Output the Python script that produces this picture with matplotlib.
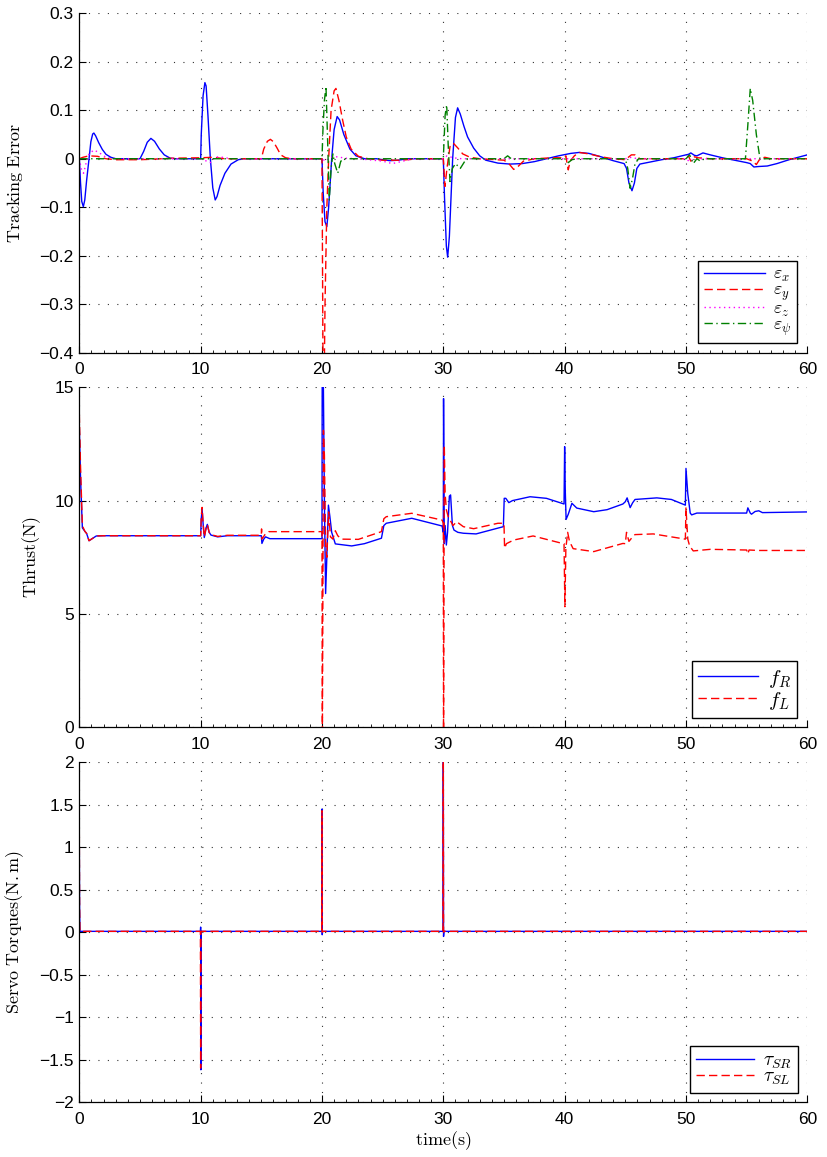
import matplotlib
matplotlib.use("Agg")
import matplotlib.pyplot as plt
from matplotlib.ticker import MultipleLocator

plt.rcParams['mathtext.fontset'] = 'cm'
plt.rcParams['font.family'] = ['Liberation Sans', 'DejaVu Sans']

# --- Tracking error (top) ---
t_ex = [0, 0.1, 0.2, 0.33, 0.45, 0.6, 0.8, 0.95, 1.1, 1.2, 1.35, 1.6, 1.9, 2.2, 2.6, 3.0,
        5.0, 5.3, 5.6, 5.9, 6.2, 6.6, 7.0, 7.5, 8.0,
        10.0, 10.05, 10.2, 10.35, 10.45, 10.6, 10.8, 11.0, 11.2, 11.35, 11.6, 12.0, 12.5, 13.1, 13.5,
        20.0, 20.1, 20.25, 20.4, 20.55, 20.8, 21.0, 21.25, 21.45, 21.8, 22.3, 22.8, 23.5,
        24.5, 25.0, 25.6, 26.3, 27.0,
        30.0, 30.1, 30.25, 30.36, 30.5, 30.77, 31.0, 31.18, 31.4, 31.7, 32.0, 32.5, 33.0,
        33.5, 34.5, 35.5, 36.5, 37.5, 38.5, 39.5, 40.5, 41.2, 42.0, 43.0, 44.0, 44.9,
        45.1, 45.3, 45.55, 45.75, 45.95, 46.2, 47.0, 48.0, 49.0, 50.0, 50.2, 50.4, 50.7, 50.9,
        51.4, 52.0, 53.0, 54.0, 55.0, 55.3, 55.6, 56.0, 56.7, 57.5, 58.5, 60.0]
e_x = [0, -0.05, -0.088, -0.099, -0.085, -0.045, 0.0, 0.035, 0.051, 0.053, 0.047, 0.033, 0.019, 0.009, 0.003, 0.0,
       0.0, 0.015, 0.034, 0.042, 0.036, 0.02, 0.008, 0.001, 0.0,
       0.0, 0.05, 0.13, 0.157, 0.15, 0.09, 0.0, -0.06, -0.085, -0.078, -0.055, -0.03, -0.011, -0.002, 0.0,
       0.0, -0.07, -0.13, -0.14, -0.1, 0.0, 0.06, 0.087, 0.08, 0.05, 0.02, 0.006, 0.0,
       0.0, -0.002, -0.004, -0.003, 0.0,
       0.0, -0.08, -0.18, -0.203, -0.16, 0.0, 0.085, 0.105, 0.092, 0.067, 0.045, 0.022, 0.006,
       -0.003, -0.009, -0.011, -0.01, -0.006, 0.0, 0.006, 0.011, 0.013, 0.011, 0.004, -0.004, -0.01,
       -0.02, -0.05, -0.066, -0.05, -0.02, -0.011, -0.007, -0.002, 0.002, 0.008, 0.009, 0.012, 0.007, 0.006,
       0.012, 0.008, 0.002, -0.003, -0.008, -0.01, -0.017, -0.016, -0.015, -0.01, -0.002, 0.008]

t_ey = [0, 0.3, 0.8, 1.5, 2.2, 3.0, 5.0, 6.0, 7.5, 10.0, 11.0, 12.0,
        15.0, 15.2, 15.5, 15.75, 16.0, 16.3, 16.6, 17.0, 17.5,
        20.0, 20.05, 20.12, 20.25, 20.4, 20.55, 20.75, 21.0, 21.15, 21.4, 21.7, 22.0, 22.4, 23.0, 23.8,
        25.0, 26.5, 28.0,
        30.0, 30.14, 30.3, 30.55, 30.83, 31.2, 31.6, 32.2, 33.0,
        35.0, 35.4, 35.8, 36.2, 36.6, 37.5, 39.0, 40.0, 40.1, 40.2, 40.3, 40.45, 40.8, 41.2, 42.0, 43.0, 44.0,
        45.0, 45.5, 45.8, 46.2, 48.0, 50.0, 50.2, 50.4, 50.7, 51.0, 52.0,
        55.0, 55.5, 55.8, 56.1, 56.5, 57.0, 60.0]
e_y = [0, 0.003, 0.006, 0.005, 0.0, -0.002, -0.002, -0.001, 0.001, 0.002, 0.003, 0.0,
       0.0, 0.02, 0.036, 0.04, 0.035, 0.022, 0.008, 0.002, 0.0,
       0.0, -0.25, -0.6, -0.3, -0.1, 0.0, 0.1, 0.14, 0.145, 0.12, 0.08, 0.045, 0.02, 0.005, 0.0,
       -0.003, -0.003, 0.0,
       0.0, -0.057, -0.02, 0.025, 0.032, 0.022, 0.01, 0.003, 0.0,
       -0.003, -0.01, -0.022, -0.015, -0.005, 0.0, 0.002, 0.002, 0.006, -0.01, -0.023, -0.005, 0.006, 0.013, 0.01, 0.004, 0.0,
       -0.002, 0.008, 0.008, 0.0, 0.0, 0.0, 0.006, -0.005, 0.004, 0.002, 0.0,
       0.0, -0.005, -0.012, 0.0, 0.003, 0.0, 0.0]

t_ez = [0, 0.15, 0.35, 0.55, 0.8, 1.2, 1.6, 2.2, 3.0,
        10.0, 10.4, 10.8, 11.2, 11.8, 12.5,
        20.0, 20.3, 20.7, 21.2, 22.0, 23.0,
        25.0, 25.8, 26.5, 27.5, 30.0, 30.3, 30.8, 31.5,
        45.0, 45.5, 46.0, 50.0, 50.3, 50.7, 60.0]
e_z = [0, -0.02, -0.03, -0.01, 0.01, 0.018, 0.013, 0.003, 0.0,
       0.0, -0.004, -0.008, 0.004, 0.003, 0.0,
       0.0, -0.005, 0.003, 0.004, 0.001, 0.0,
       -0.005, -0.01, -0.006, 0.0, 0.0, 0.006, 0.002, 0.0,
       0.0, 0.003, 0.0, 0.0, -0.006, 0.0, 0.0]

t_epsi = [0, 20.0, 20.08, 20.2, 20.33, 20.45, 20.6, 20.75, 20.9, 21.05, 21.3, 21.55, 21.9,
          30.0, 30.05, 30.15, 30.28, 30.4, 30.55, 30.75, 31.0, 31.4, 31.9,
          35.0, 35.3, 35.6, 40.0, 40.3, 40.6, 41.0,
          45.0, 45.2, 45.4, 45.6, 45.8, 46.1,
          50.0, 50.3, 50.6, 50.9, 51.2, 51.5,
          54.9, 55.1, 55.3, 55.5, 55.8, 56.1, 60.0]
e_psi = [0, 0.0, 0.06, 0.12, 0.149, 0.05, -0.085, -0.02, 0.01, -0.01, -0.03, -0.005, 0.0,
         0.0, 0.03, 0.09, 0.111, 0.03, -0.047, -0.02, -0.01, -0.02, 0.0,
         0.0, 0.006, 0.0, 0.0, -0.008, -0.002, 0.0,
         0.0, -0.02, -0.061, -0.04, -0.01, 0.0,
         0.0, 0.008, -0.01, 0.0, -0.005, 0.0,
         0.0, 0.07, 0.145, 0.12, 0.05, 0.0, 0.0]

# --- Thrust (middle) ---
t_fr = [0, 0.1, 0.25, 0.45, 0.6, 0.8, 1.0, 1.4, 2.0,
        10.0, 10.05, 10.12, 10.2, 10.3, 10.45, 10.55, 10.7, 10.85, 11.4, 12.2,
        15.0, 15.05, 15.2, 15.35, 15.7,
        20.0, 20.02, 20.1, 20.2, 20.3, 20.4, 20.53, 20.65, 20.8, 21.1, 22.45, 23.5, 24.9, 25.1, 25.3, 27.4, 29.9,
        30.0, 30.02, 30.08, 30.15, 30.25, 30.35, 30.5, 30.6, 30.75, 30.88, 31.2, 31.65, 32.7, 34.95,
        35.02, 35.15, 35.4, 35.7, 37.15, 38.5, 39.95,
        40.0, 40.05, 40.12, 40.3, 40.6, 41.0, 42.4, 43.5, 44.8, 45.0, 45.15, 45.4, 45.6, 45.8, 47.6, 48.8, 49.95,
        50.0, 50.15, 50.35, 50.47, 50.9, 55.0, 55.1, 55.3, 55.4, 55.7, 56.0, 56.3, 60.0]
f_r = [13.2, 11.0, 8.8, 8.65, 8.55, 8.23, 8.3, 8.44, 8.45,
       8.45, 9.2, 9.62, 9.0, 8.37, 8.8, 8.95, 8.6, 8.48, 8.4, 8.45,
       8.45, 8.11, 8.3, 8.4, 8.32,
       8.32, 16.0, 16.0, 10.0, 5.9, 7.5, 9.8, 9.3, 8.6, 8.09, 8.0, 8.1, 8.34, 8.9, 9.0, 9.22, 8.88,
       8.6, 14.5, 8.1, 8.9, 8.04, 8.6, 10.2, 10.25, 8.9, 8.7, 8.6, 8.56, 8.53, 8.85,
       10.1, 10.1, 9.91, 10.0, 10.17, 10.1, 9.85,
       12.38, 10.5, 9.17, 9.4, 9.88, 9.67, 9.51, 9.6, 9.85, 9.95, 10.12, 9.69, 9.9, 10.05, 10.12, 10.05, 9.8,
       11.42, 10.3, 9.45, 9.37, 9.45, 9.45, 9.68, 9.45, 9.4, 9.52, 9.55, 9.47, 9.5]

t_fl = [0, 0.1, 0.25, 0.45, 0.6, 0.8, 1.0, 1.4, 2.0,
        10.0, 10.05, 10.12, 10.2, 10.3, 10.45, 10.55, 10.7, 10.85, 11.4, 12.2,
        15.0, 15.02, 15.05, 15.3, 15.6,
        20.0, 20.03, 20.12, 20.2, 20.3, 20.4, 20.55, 20.7, 20.9, 21.1, 21.3, 21.6, 23.0, 24.9, 25.1, 25.3, 27.4, 29.9,
        30.0, 30.02, 30.08, 30.15, 30.25, 30.4, 30.6, 30.8, 31.1, 31.65, 32.5, 34.5,
        35.0, 35.05, 35.2, 35.8, 37.4, 39.6, 39.95,
        40.02, 40.1, 40.25, 40.4, 40.7, 42.4, 44.8,
        45.0, 45.1, 45.3, 45.6, 45.8, 47.3, 49.95,
        50.0, 50.05, 50.15, 50.3, 50.6, 52.0, 55.0, 55.1, 55.2, 56.0, 60.0]
f_l = [13.8, 11.5, 8.9, 8.65, 8.55, 8.23, 8.3, 8.44, 8.45,
       8.45, 9.3, 9.7, 9.0, 8.4, 8.8, 8.95, 8.6, 8.5, 8.42, 8.47,
       8.47, 8.75, 8.3, 8.5, 8.63,
       8.63, -1.0, 13.1, 12.0, 8.0, 7.5, 9.5, 8.4, 8.3, 8.67, 8.45, 8.3, 8.29, 8.63, 9.2, 9.29, 9.44, 9.14,
       9.0, -1.0, 12.45, 10.3, 9.6, 9.3, 9.1, 8.9, 9.07, 8.85, 8.76, 9.0,
       9.0, 7.9, 8.1, 8.26, 8.44, 8.14, 8.1,
       5.32, 7.9, 8.6, 8.2, 7.88, 7.75, 8.11,
       8.1, 8.6, 8.2, 8.4, 8.5, 8.53, 8.3,
       9.7, 9.2, 8.3, 8.0, 7.78, 7.85, 7.82, 7.65, 7.82, 7.8, 7.8]

# --- Servo torques (bottom) ---
t_tau = [0, 0.02, 0.05, 9.98, 10.0, 10.02, 10.05, 19.98, 20.0, 20.02, 20.05,
         29.98, 30.0, 30.02, 30.05, 60.0]
tau_sr = [1.0, 0.3, 0.01, 0.01, 0.06, -1.62, 0.01, 0.01, 1.45, -0.03, 0.01,
          0.01, 2.1, -0.05, 0.01, 0.01]
tau_sl = [1.15, 0.3, 0.01, 0.01, -1.6, 0.0, 0.01, 0.01, 1.43, 0.0, 0.01,
          0.01, 2.1, 0.0, 0.01, 0.01]

x_ticks = [0, 10, 20, 30, 40, 50, 60]
top_yticks = [-0.4, -0.3, -0.2, -0.1, 0, 0.1, 0.2, 0.3]
top_ylabels = ['\u22120.4', '\u22120.3', '\u22120.2', '\u22120.1', '0', '0.1', '0.2', '0.3']
mid_yticks = [0, 5, 10, 15]
bot_yticks = [-2, -1.5, -1, -0.5, 0, 0.5, 1, 1.5, 2]
bot_ylabels = ['\u22122', '\u22121.5', '\u22121', '\u22120.5', '0', '0.5', '1', '1.5', '2']

BLUE = '#0000ff'
RED = '#ff0000'
MAG = '#ff00ff'
GREEN = '#008000'
DASH = (0, (6, 3))

fig = plt.figure(figsize=(8.28, 11.57), dpi=100)
left, width = 0.0958, 0.8792
ax1 = fig.add_axes([left, 0.6952, width, 0.2933])
ax2 = fig.add_axes([left, 0.3714, width, 0.2939])
ax3 = fig.add_axes([left, 0.0475, width, 0.2936])


def style(ax, yt, ylab=None):
    ax.set_xlim(0, 60)
    ax.set_xticks(x_ticks)
    ax.xaxis.set_minor_locator(MultipleLocator(1))
    ax.set_yticks(yt)
    if ylab is not None:
        ax.set_yticklabels(ylab)
    ax.grid(True, which='major', color='#333333', linestyle=(0, (1, 7.5)), linewidth=0.8)
    for s in ['top', 'right']:
        ax.spines[s].set_visible(False)
    for s in ['left', 'bottom']:
        ax.spines[s].set_linewidth(0.9)
    ax.tick_params(axis='both', which='both', direction='in', labelsize=12.5)
    ax.tick_params(axis='x', which='major', length=5, pad=7)
    ax.tick_params(axis='x', which='minor', length=2.5)
    ax.tick_params(axis='y', which='major', length=5, pad=4)


def legend(ax, anchor, fs, spacing, hlen):
    ax.legend(loc='lower right', bbox_to_anchor=anchor, borderaxespad=0,
              fontsize=fs, labelspacing=spacing, handlelength=hlen, handletextpad=0.45,
              borderpad=0.3, fancybox=False, framealpha=1, edgecolor='black')


# top
ax1.plot(t_ex, e_x, color=BLUE, lw=1.0, label=r'$\varepsilon_x$')
ax1.plot(t_ey, e_y, color=RED, lw=1.0, linestyle=DASH, label=r'$\varepsilon_y$')
ax1.plot(t_ez, e_z, color=MAG, lw=1.0, linestyle=(0, (1, 2.5)), label=r'$\varepsilon_z$')
ax1.plot(t_epsi, e_psi, color=GREEN, lw=1.0, linestyle=(0, (6, 2.5, 1, 2.5)), label=r'$\varepsilon_\psi$')
ax1.set_ylim(-0.4, 0.3)
style(ax1, top_yticks, top_ylabels)
ax1.set_ylabel(r'$\mathrm{Tracking\ Error}$', fontsize=13)
ax1.yaxis.set_label_coords(-0.075, 0.5)
legend(ax1, (0.986, 0.028), 13, -0.12, 3.4)

# middle
ax2.plot(t_fr, f_r, color=BLUE, lw=1.0, label=r'$f_R$')
ax2.plot(t_fl, f_l, color=RED, lw=1.0, linestyle=DASH, label=r'$f_L$')
ax2.set_ylim(0, 15)
style(ax2, mid_yticks)
ax2.set_ylabel(r'$\mathrm{Thrust(N)}$', fontsize=13)
ax2.yaxis.set_label_coords(-0.05, 0.5)
legend(ax2, (0.986, 0.028), 15, 0.0, 2.9)

# bottom
ax3.plot(t_tau, tau_sr, color=BLUE, lw=1.0, label=r'$\tau_{SR}$')
ax3.plot(t_tau, tau_sl, color=RED, lw=1.0, linestyle=DASH, label=r'$\tau_{SL}$')
ax3.set_ylim(-2, 2)
style(ax3, bot_yticks, bot_ylabels)
ax3.set_ylabel(r'$\mathrm{Servo\ Torques(N.m)}$', fontsize=13)
ax3.yaxis.set_label_coords(-0.073, 0.5)
ax3.set_xlabel(r'$\mathrm{time(s)}$', fontsize=13, labelpad=2)
legend(ax3, (0.987, 0.026), 14, -0.12, 3.0)

fig.savefig('out.png', dpi=100)
